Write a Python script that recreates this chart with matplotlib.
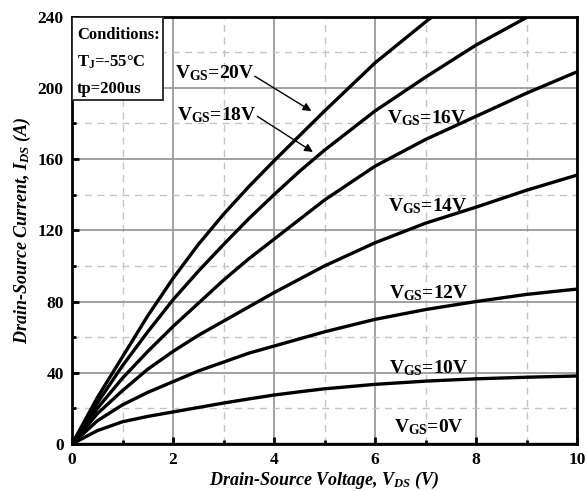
import matplotlib
matplotlib.use('Agg')
import matplotlib.pyplot as plt
from matplotlib.patches import Rectangle
from matplotlib.ticker import MultipleLocator

plt.rcParams['font.family'] = 'Liberation Serif'
plt.rcParams['font.weight'] = 'bold'
plt.rcParams['mathtext.default'] = 'regular'

# output characteristics at Tj=-55C
vds = [0, 0.5, 1, 1.5, 2, 2.5, 3, 3.5, 4, 4.5, 5, 6, 7, 8, 9, 10]
ids_20 = [0, 26, 49, 72, 93, 112, 129, 144.5, 159, 173, 187, 214, 237, 259, 279, 298]
ids_18 = [0, 23, 44, 63, 81, 97, 112, 126.5, 140, 153, 165, 187, 206, 224, 239.5, 254]
ids_16 = [0, 20, 37, 52, 66, 79, 92, 104, 115, 126, 137, 156, 171, 184, 197, 209]
ids_14 = [0, 17, 30, 42, 52, 61, 69, 77, 85, 92.5, 100, 113, 124, 133, 142.5, 151]
ids_12 = [0, 13, 22, 29, 35, 41, 46, 51, 55, 59, 63, 70, 75.5, 80, 84, 87]
ids_10 = [0, 7.5, 12.5, 15.5, 18, 20.5, 23, 25.3, 27.5, 29.3, 31, 33.5, 35.3, 36.6, 37.5, 38.2]
ids_0 = [0] * len(vds)
curves = [ids_20, ids_18, ids_16, ids_14, ids_12, ids_10, ids_0]

fig = plt.figure(figsize=(5.87, 4.91), dpi=100)
ax = fig.add_axes([0.1227, 0.0957, 0.8603, 0.8705])

for c in curves:
    ax.plot(vds, c, color='black', lw=2.4, solid_joinstyle='round', zorder=3)

ax.set_xlim(0, 10)
ax.set_ylim(0, 240)
ax.xaxis.set_major_locator(MultipleLocator(2))
ax.xaxis.set_minor_locator(MultipleLocator(1))
ax.yaxis.set_major_locator(MultipleLocator(40))
ax.yaxis.set_minor_locator(MultipleLocator(20))
ax.grid(which='major', color='#9a9a9a', lw=1.3, zorder=0)
ax.grid(which='minor', color='#c4c4c4', lw=1.0, ls=(0, (5, 4)), zorder=0)
ax.tick_params(which='both', direction='in', width=2, labelsize=12.5)
ax.tick_params(which='major', length=5, pad=6)
ax.tick_params(which='minor', length=3)
for s in ax.spines.values():
    s.set_linewidth(2)
for lab in ax.get_xticklabels() + ax.get_yticklabels():
    lab.set_fontweight('bold')

ax.set_xlabel('Drain-Source Voltage, V$_{DS}$ (V)', fontsize=13,
              fontstyle='italic', fontweight='bold', labelpad=1)
ax.set_ylabel('Drain-Source Current, I$_{DS}$ (A)', fontsize=13,
              fontstyle='italic', fontweight='bold', labelpad=3)

lbl = dict(fontsize=14, fontweight='bold', va='center', ha='left', zorder=4)
ax.text(2.03, 208.5, 'V$_{GS}$=20V', **lbl)
ax.text(2.07, 184.5, 'V$_{GS}$=18V', **lbl)
ax.text(6.23, 183, 'V$_{GS}$=16V', **lbl)
ax.text(6.25, 133.5, 'V$_{GS}$=14V', **lbl)
ax.text(6.28, 84.5, 'V$_{GS}$=12V', **lbl)
ax.text(6.28, 42.5, 'V$_{GS}$=10V', **lbl)
ax.text(6.38, 9.5, 'V$_{GS}$=0V', **lbl)

arrow = dict(arrowstyle='-|>', color='black', lw=1.0, mutation_scale=12,
             shrinkA=0, shrinkB=0)
ax.annotate('', xy=(4.74, 187), xytext=(3.62, 206.5), arrowprops=arrow, zorder=4)
ax.annotate('', xy=(4.77, 164), xytext=(3.67, 184), arrowprops=arrow, zorder=4)

# conditions box in the top-left corner
ax.add_patch(Rectangle((0, 0.805), 0.18, 0.195, transform=ax.transAxes,
                       fc='white', ec='#333333', lw=1.4, zorder=5))
ax.text(0.1, 229.5, 'Conditions:', fontsize=12, fontweight='bold',
        va='center', ha='left', zorder=6)
ax.text(0.1, 214.5, 'T$_J$=-55\u00b0C', fontsize=12, fontweight='bold',
        va='center', ha='left', zorder=6)
ax.text(0.1, 199.5, 'tp=200us', fontsize=12, fontweight='bold',
        va='center', ha='left', zorder=6)

fig.savefig('out.png', dpi=100)
